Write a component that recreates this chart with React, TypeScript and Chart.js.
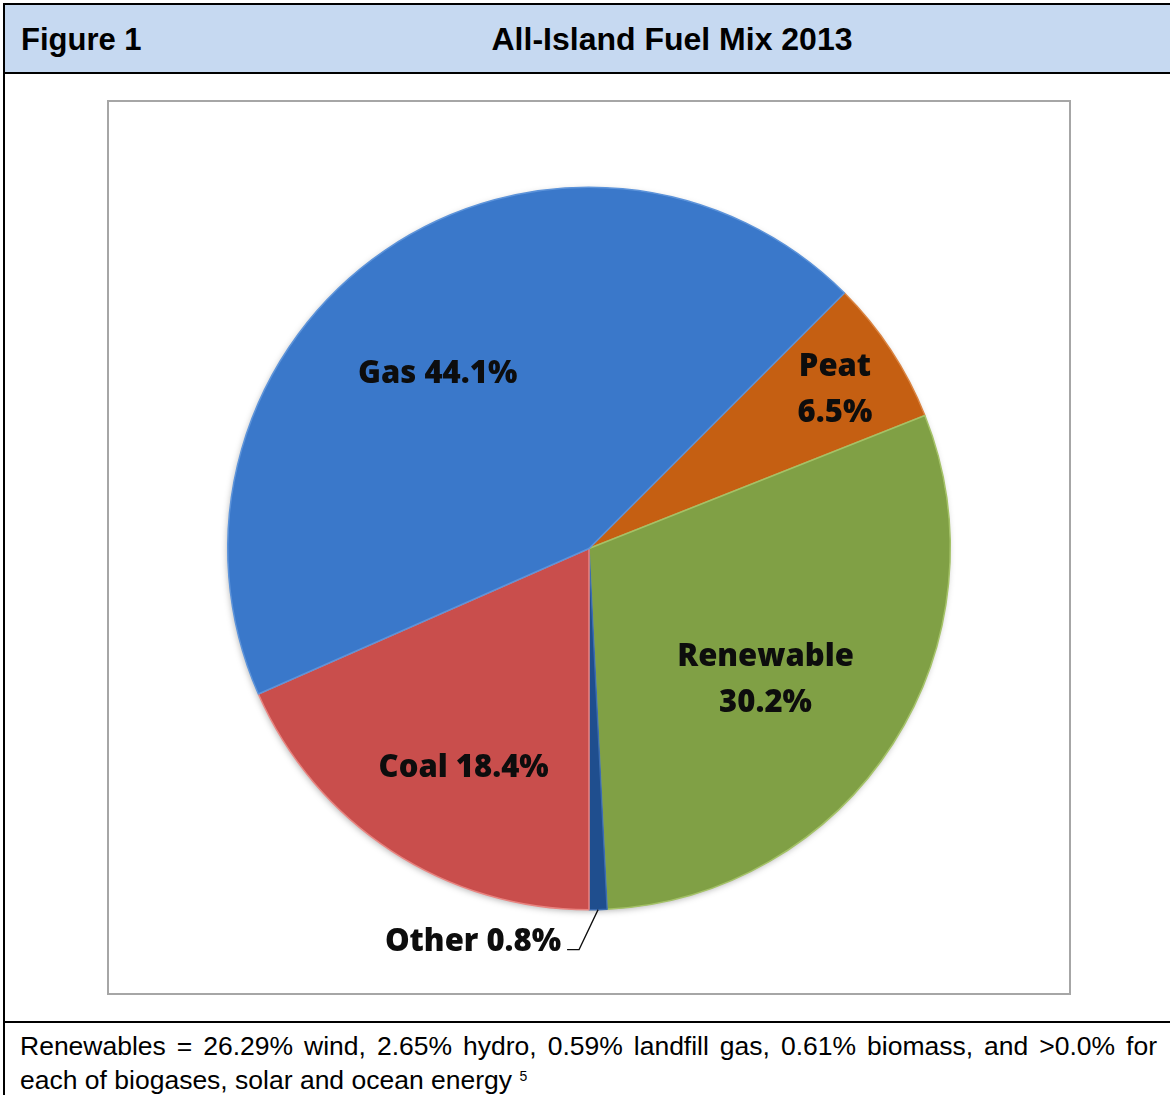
import React, { useEffect, useRef } from "react";
import { Chart, registerables } from "chart.js";

Chart.register(...registerables);

const CATEGORIES = ["Peat", "Renewable", "Other", "Coal", "Gas"];
const VALUES = [6.5, 30.2, 0.8, 18.4, 44.1];
const COLORS = ["#C55F12", "#80A045", "#1F4E8E", "#C94E4C", "#3A78CA"];
const EDGE_COLORS = ["#DA8340", "#A4C267", "#3C6CB0", "#E98480", "#5C93DA"];
const TITLE = "All-Island Fuel Mix 2013";
const FIG_LABEL = "Figure 1";

// label placement style (radial fraction of radius, angle offset in degrees, multi-line)
const LABEL_LAYOUT = [
  { frac: 0.81, off: 0.5, split: true, outside: false },
  { frac: 0.61, off: 4, split: true, outside: false },
  { frac: 1, off: 0, split: false, outside: true },
  { frac: 0.7, off: -3.4, split: false, outside: false },
  { frac: 0.64, off: -6.5, split: false, outside: false },
];

const LABEL_FONT = "800 31px 'Open Sans', 'Noto Sans', sans-serif";

const labelPlugin = {
  id: "sliceLabels",
  beforeDatasetsDraw(chart: any) {
    const meta = chart.getDatasetMeta(0);
    const arc = meta.data[0];
    if (!arc) return;
    const { x, y, outerRadius } = arc.getProps(["x", "y", "outerRadius"], true);
    const ctx = chart.ctx;
    ctx.save();
    ctx.shadowColor = "rgba(0,0,0,0.35)";
    ctx.shadowBlur = 7;
    ctx.shadowOffsetX = -1;
    ctx.shadowOffsetY = 2;
    ctx.fillStyle = "#777";
    ctx.beginPath();
    ctx.arc(x, y, outerRadius - 1, 0, Math.PI * 2);
    ctx.fill();
    ctx.restore();
  },
  afterDatasetsDraw(chart: any) {
    const meta = chart.getDatasetMeta(0);
    const ctx = chart.ctx;
    ctx.save();
    ctx.font = LABEL_FONT;
    ctx.fillStyle = "#0D0D0D";
    meta.data.forEach((arc: any, i: number) => {
      const { x, y, startAngle, endAngle, outerRadius } = arc.getProps(
        ["x", "y", "startAngle", "endAngle", "outerRadius"],
        true
      );
      const cfg = LABEL_LAYOUT[i];
      const mid = (startAngle + endAngle) / 2 + (cfg.off * Math.PI) / 180;
      const name = CATEGORIES[i];
      const pct = VALUES[i].toFixed(1) + "%";
      if (cfg.outside) {
        const ex = x + outerRadius * Math.cos(mid);
        const ey = y + outerRadius * Math.sin(mid);
        ctx.strokeStyle = "#0D0D0D";
        ctx.lineWidth = 1.3;
        ctx.beginPath();
        ctx.moveTo(ex, ey);
        ctx.lineTo(ex - 19, ey + 40);
        ctx.lineTo(ex - 31, ey + 40);
        ctx.stroke();
        ctx.textAlign = "right";
        ctx.textBaseline = "alphabetic";
        ctx.fillText(name + " " + pct, ex - 37, ey + 41);
        return;
      }
      const lx = x + outerRadius * cfg.frac * Math.cos(mid);
      const ly = y + outerRadius * cfg.frac * Math.sin(mid);
      ctx.textAlign = "center";
      ctx.textBaseline = "middle";
      if (cfg.split) {
        ctx.fillText(name, lx, ly - 23);
        ctx.fillText(pct, lx, ly + 23);
      } else {
        ctx.fillText(name + " " + pct, lx, ly);
      }
    });
    ctx.restore();
  },
};

export default function App() {
  const ref = useRef<HTMLCanvasElement | null>(null);
  useEffect(() => {
    if (!ref.current) return;
    const chart = new Chart(ref.current, {
      type: "pie",
      data: {
        labels: CATEGORIES,
        datasets: [
          {
            data: VALUES,
            backgroundColor: COLORS,
            borderColor: EDGE_COLORS,
            borderWidth: 1.5,
          },
        ],
      },
      options: {
        animation: false,
        responsive: false,
        rotation: 45,
        layout: { padding: { top: 85, bottom: 83, left: 119, right: 119 } },
        plugins: {
          legend: { display: false },
          tooltip: { enabled: false },
          title: { display: false },
        },
      },
      plugins: [labelPlugin],
    });
    return () => chart.destroy();
  }, []);

  const arial = "'Liberation Sans', Arial, sans-serif";
  return (
    <div
      style={{
        position: "fixed",
        left: 0,
        top: 0,
        width: 1170,
        height: 1095,
        overflow: "hidden",
        background: "#fff",
        fontFamily: arial,
      }}
    >
      {/* header band */}
      <div style={{ position: "absolute", left: 5, top: 5, width: 1200, height: 67, background: "#C6D9F1" }} />
      {/* frame lines */}
      <div style={{ position: "absolute", left: 3, top: 3, width: 1200, height: 2, background: "#000" }} />
      <div style={{ position: "absolute", left: 3, top: 3, width: 2, height: 1200, background: "#000" }} />
      <div style={{ position: "absolute", left: 3, top: 72, width: 1200, height: 2, background: "#000" }} />
      <div style={{ position: "absolute", left: 3, top: 1021, width: 1200, height: 2, background: "#000" }} />
      <div
        style={{
          position: "absolute",
          left: 21,
          top: 24,
          fontSize: 31,
          lineHeight: "31px",
          fontWeight: "bold",
          color: "#000",
          whiteSpace: "nowrap",
        }}
      >
        {FIG_LABEL}
      </div>
      <div
        style={{
          position: "absolute",
          left: 472,
          width: 400,
          top: 23,
          fontSize: 32,
          lineHeight: "32px",
          fontWeight: "bold",
          color: "#000",
          textAlign: "center",
          whiteSpace: "nowrap",
        }}
      >
        {TITLE}
      </div>
      {/* chart box */}
      <div
        style={{
          position: "absolute",
          left: 107,
          top: 100,
          width: 960,
          height: 891,
          border: "2px solid #A6A6A6",
        }}
      />
      <canvas
        ref={ref}
        width={962}
        height={893}
        style={{ position: "absolute", left: 108, top: 101, width: 962, height: 893 }}
      />
      {/* footer */}
      <div
        style={{
          position: "absolute",
          left: 20,
          top: 1029,
          width: 1137,
          fontSize: 26.5,
          lineHeight: "34px",
          color: "#000",
        }}
      >
        <div style={{ textAlign: "justify", textAlignLast: "justify" } as any}>
          Renewables = 26.29% wind, 2.65% hydro, 0.59% landfill gas, 0.61% biomass, and &gt;0.0% for
        </div>
        <div style={{ whiteSpace: "nowrap" }}>
          each of biogases, solar and ocean energy{" "}
          <sup style={{ fontSize: 14, verticalAlign: "top", position: "relative", top: -4 }}>5</sup>
        </div>
      </div>
    </div>
  );
}
